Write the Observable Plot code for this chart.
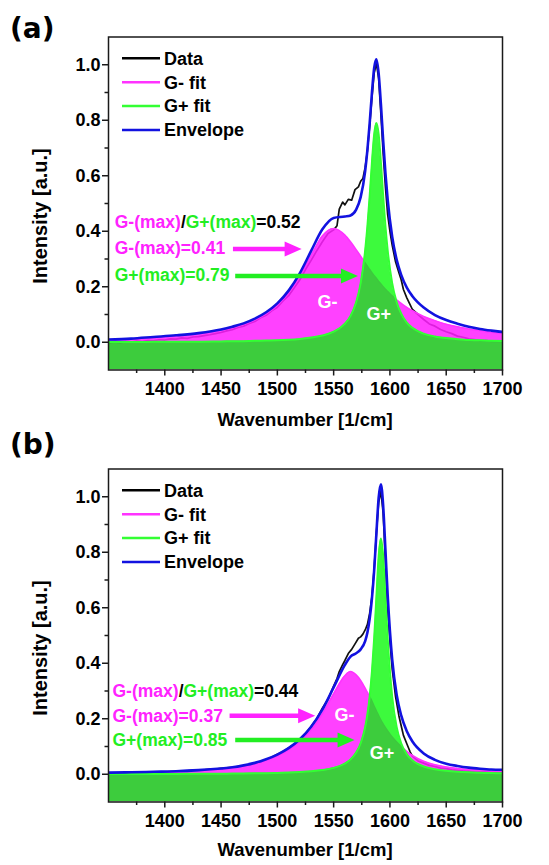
<!DOCTYPE html>
<html>
<head>
<meta charset="utf-8">
<script src="https://cdn.jsdelivr.net/npm/d3@7"></script>
<script src="https://cdn.jsdelivr.net/npm/@observablehq/plot@0.6"></script>
<style>
  html, body { margin: 0; padding: 0; background: #fff; }
  svg { display: block; }
</style>
</head>
<body>
<div id="chart"></div>
<script>
// ---------- data ----------
const wavenumber = [1350,1370,1390,1410,1430,1450,1460,1470,1480,1490,1500,1510,1520,1530,1540,1550,1560,1565,1570,1574,1578,1580,1582,1584,1586,1588,1590,1592,1594,1596,1598,1602,1606,1610,1615,1620,1630,1640,1650,1660,1670,1680,1690,1700];

const gMinusA = [0.009,0.012,0.017,0.023,0.031,0.043,0.052,0.064,0.080,0.102,0.133,0.177,0.237,0.312,0.383,0.410,0.386,0.362,0.334,0.310,0.286,0.274,0.262,0.251,0.240,0.230,0.219,0.210,0.200,0.191,0.183,0.167,0.153,0.140,0.126,0.114,0.093,0.078,0.065,0.056,0.048,0.042,0.036,0.032];
const gPlusA = [0.001,0.001,0.0015,0.002,0.002,0.003,0.0035,0.004,0.005,0.006,0.007,0.009,0.012,0.017,0.024,0.038,0.067,0.095,0.144,0.213,0.331,0.419,0.527,0.647,0.749,0.790,0.749,0.647,0.527,0.419,0.331,0.213,0.144,0.103,0.071,0.052,0.031,0.021,0.015,0.011,0.008,0.007,0.005,0.0045];
const envelopeA = [0.010,0.013,0.019,0.025,0.033,0.046,0.056,0.068,0.085,0.108,0.140,0.186,0.249,0.329,0.407,0.448,0.453,0.457,0.478,0.523,0.617,0.693,0.789,0.898,0.989,1.020,0.968,0.857,0.727,0.610,0.514,0.380,0.297,0.243,0.197,0.166,0.125,0.098,0.080,0.067,0.056,0.048,0.042,0.037];

const gMinusB = [0.005,0.006,0.008,0.010,0.013,0.019,0.023,0.029,0.038,0.050,0.066,0.088,0.118,0.160,0.218,0.290,0.355,0.370,0.358,0.338,0.310,0.295,0.280,0.264,0.245,0.228,0.211,0.195,0.181,0.168,0.156,0.134,0.116,0.100,0.083,0.068,0.047,0.034,0.026,0.021,0.017,0.015,0.013,0.012];
const gPlusB = [0.0007,0.0008,0.001,0.0013,0.0016,0.0021,0.0024,0.0028,0.0033,0.004,0.0049,0.0062,0.008,0.0107,0.0151,0.023,0.0388,0.0535,0.0781,0.1117,0.170,0.216,0.280,0.369,0.490,0.641,0.786,0.850,0.786,0.641,0.490,0.280,0.170,0.1117,0.072,0.050,0.0279,0.0177,0.0122,0.0089,0.0068,0.0053,0.0043,0.0036];
const envelopeB = [0.006,0.007,0.009,0.011,0.015,0.021,0.025,0.032,0.041,0.054,0.071,0.094,0.126,0.171,0.233,0.313,0.394,0.424,0.436,0.450,0.480,0.511,0.560,0.633,0.735,0.869,0.997,1.045,0.967,0.809,0.646,0.414,0.286,0.212,0.155,0.118,0.075,0.052,0.038,0.030,0.024,0.020,0.017,0.016];

const dataWavenumber = [1350,1355,1360,1365,1370,1375,1380,1385,1390,1395,1400,1405,1410,1415,1420,1425,1430,1435,1440,1445,1450,1455,1460,1465,1470,1475,1480,1485,1490,1495,1500,1505,1510,1515,1520,1525,1530,1535,1540,1545,1550,
  1553,1555,1558,1560,1563,1566,1569,1572,1574,1576,1578,1580,1582,1584,1586,1588,1590,1592,1594,1596,1598,1600,1602,1605,1608,1610,1612,1615,1618,1620,
  1625,1630,1635,1640,1645,1650,1655,1660,1665,1670,1675,1680,1685,1690,1695,1700];
const dataA = [-0.004,0.000,-0.003,0.002,0.001,0.004,0.002,0.006,0.005,0.009,0.008,0.012,0.011,0.016,0.014,0.019,0.020,0.024,0.027,0.031,0.035,0.041,0.045,0.053,0.058,0.068,0.075,0.088,0.097,0.113,0.126,0.149,0.168,0.196,0.225,0.262,0.295,0.330,0.362,0.392,0.405,
  0.42,0.48,0.505,0.495,0.515,0.512,0.55,0.56,0.58,0.59,0.63,0.69,0.78,0.88,0.97,1.005,0.95,0.82,0.68,0.56,0.46,0.40,0.35,0.29,0.25,0.225,0.19,0.16,0.135,0.118,
  0.10,0.082,0.066,0.058,0.046,0.038,0.031,0.022,0.018,0.012,0.010,0.006,0.007,0.003,0.004,0.002];
const dataB = [0.002,0.004,0.003,0.005,0.004,0.006,0.005,0.007,0.007,0.009,0.008,0.010,0.010,0.012,0.012,0.014,0.015,0.016,0.018,0.019,0.021,0.023,0.025,0.028,0.031,0.035,0.040,0.046,0.053,0.061,0.072,0.081,0.095,0.108,0.127,0.146,0.172,0.200,0.238,0.270,0.318,
  0.345,0.37,0.395,0.41,0.435,0.45,0.47,0.49,0.495,0.505,0.52,0.54,0.58,0.64,0.74,0.87,0.98,1.02,0.94,0.77,0.60,0.48,0.38,0.28,0.21,0.175,0.14,0.11,0.08,0.065,
  0.048,0.040,0.032,0.028,0.022,0.020,0.016,0.014,0.012,0.011,0.009,0.008,0.008,0.007,0.006,0.006];

const xTicks = [1400,1450,1500,1550,1600,1650,1700];
const xMinorTicks = [1375,1425,1475,1525,1575,1625,1675];
const yTicks = [0,0.2,0.4,0.6,0.8,1.0];
const yMinorTicks = [0.1,0.3,0.5,0.7,0.9];
const legendLabels = ["Data","G- fit","G+ fit","Envelope"];

// annotation values and their anchor points (data coordinates)
const panelLabels = ["(a)","(b)"];
const ratioValues = ["0.52","0.44"];
const gMinusMaxValues = ["0.41","0.37"];
const gPlusMaxValues = ["0.79","0.85"];
const annotTextX = [1356, 1354];
const annotRowsY = [[0.41,0.316,0.219],[0.278,0.187,0.10]];
const magentaArrows = [[1461,1522,0.334],[1458,1534,0.209]];
const greenArrows = [[1463,1572,0.237],[1463,1569,0.122]];
const peakLabelsA = [{x:1544.5,y:0.143,t:"G-"},{x:1590,y:0.10,t:"G+"}];
const peakLabelsB = [{x:1559.6,y:0.212,t:"G-"},{x:1593,y:0.075,t:"G+"}];

// ---------- styles ----------
const FONT = "'Liberation Sans', Arial, Helvetica, sans-serif";
const MAG_FILL = "#ff22ff";
const MAG_LINE = "#ff33ff";
const MAG_TEXT = "#ff22ff";
const GRN_FILL = "#00f800";
const GRN_LINE = "#33ff33";
const GRN_TEXT = "#22ee22";
const BLUE = "#1212e0";
const curve = "monotone-x";
const W = 549, H = 432, ML = 108, MR = 47, MT = 36.5, MB = 62.5;

function makePanel(k, gm, gp, env, dat, peakLabels) {
  const rows = wavenumber.map((x, i) => ({x, gm: gm[i], gp: gp[i], env: env[i]}));
  const data = dataWavenumber.map((x, i) => ({x, y: dat[i]}));
  const plot = Plot.plot({
    width: W, height: H,
    marginLeft: ML, marginRight: MR, marginTop: MT, marginBottom: MB,
    x: {domain: [1350, 1700]},
    y: {domain: [-0.1, 1.1]},
    style: {fontFamily: FONT, fontWeight: "bold", fontSize: "18px", background: "#fff", color: "#000", overflow: "visible"},
    marks: [
      Plot.line(data, {x: "x", y: "y", stroke: "#111", strokeWidth: 1.7, clip: true}),
      Plot.areaY(rows, {x: "x", y1: -0.1, y2: "gm", fill: MAG_FILL, fillOpacity: 0.86, curve, clip: true}),
      Plot.line(rows, {x: "x", y: "gm", stroke: MAG_LINE, strokeWidth: 1.5, curve, clip: true}),
      Plot.areaY(rows, {x: "x", y1: -0.1, y2: "gp", fill: GRN_FILL, fillOpacity: 0.76, curve, clip: true}),
      Plot.line(rows, {x: "x", y: "gp", stroke: GRN_LINE, strokeWidth: 2, curve, clip: true}),
      Plot.line(rows, {x: "x", y: "env", stroke: BLUE, strokeWidth: 2.6, curve, clip: true}),
      Plot.text(peakLabels, {x: "x", y: "y", text: "t", fill: "#fff", fontSize: 18, fontWeight: "bold"}),
      Plot.frame({stroke: "#1a1a1a", strokeWidth: 1.5}),
      Plot.axisX({ticks: xTicks, tickSize: 6, tickPadding: 6, tickFormat: d => String(d), fontSize: 18, fontWeight: "bold", strokeWidth: 1.5, stroke: "#1a1a1a", label: null}),
      Plot.axisX({ticks: xMinorTicks, tickSize: 3.5, tickFormat: () => "", strokeWidth: 1.5, stroke: "#1a1a1a", label: null}),
      Plot.axisY({ticks: yTicks, tickSize: 6, tickPadding: 2, tickFormat: d3.format(".1f"), fontSize: 18, fontWeight: "bold", strokeWidth: 1.5, stroke: "#1a1a1a", label: null}),
      Plot.axisY({ticks: yMinorTicks, tickSize: 3.5, tickFormat: () => "", strokeWidth: 1.5, stroke: "#1a1a1a", label: null})
    ]
  });

  const svg = d3.select(plot);
  const sx = plot.scale("x"), sy = plot.scale("y");
  const txt = (x, y, s, opts = {}) => svg.append("text")
    .attr("x", x).attr("y", y)
    .attr("font-family", opts.family || FONT)
    .attr("font-weight", "bold")
    .attr("font-size", opts.size || 17)
    .attr("fill", opts.fill || "#000")
    .attr("text-anchor", opts.anchor || "start")
    .attr("transform", opts.transform || null)
    .text(s);

  // arrows
  const arrow = (a, color) => {
    const px1 = sx.apply(a[0]), px2 = sx.apply(a[1]), py = sy.apply(a[2]);
    svg.append("line").attr("x1", px1).attr("x2", px2 - 12).attr("y1", py).attr("y2", py)
      .attr("stroke", color).attr("stroke-width", 4.5);
    svg.append("path").attr("d", `M${px2},${py}L${px2 - 17},${py - 7.5}L${px2 - 17},${py + 7.5}Z`).attr("fill", color);
  };
  arrow(magentaArrows[k], MAG_TEXT);
  arrow(greenArrows[k], GRN_TEXT);

  // annotation texts
  const ax = sx.apply(annotTextX[k]);
  const r = annotRowsY[k];
  const t0 = txt(ax, sy.apply(r[0]), "", {size: 17.5});
  t0.append("tspan").attr("fill", MAG_TEXT).text("G-(max)");
  t0.append("tspan").attr("fill", "#000").text("/");
  t0.append("tspan").attr("fill", GRN_TEXT).text("G+(max)");
  t0.append("tspan").attr("fill", "#000").text("=" + ratioValues[k]);
  txt(ax, sy.apply(r[1]), "G-(max)=" + gMinusMaxValues[k], {size: 17.5, fill: MAG_TEXT});
  txt(ax, sy.apply(r[2]), "G+(max)=" + gPlusMaxValues[k], {size: 17.5, fill: GRN_TEXT});

  // legend
  const legendColors = ["#000", MAG_LINE, GRN_LINE, BLUE];
  legendLabels.forEach((s, i) => {
    const y = MT + 21.8 + i * 23.9;
    svg.append("line").attr("x1", ML + 14).attr("x2", ML + 52).attr("y1", y).attr("y2", y)
      .attr("stroke", legendColors[i]).attr("stroke-width", 2.5);
    txt(ML + 56, y + 6.3, s, {size: 18});
  });

  // axis titles
  const cx = (ML + (W - MR)) / 2;
  txt(cx, k === 0 ? 426 : 424, "Wavenumber [1/cm]", {size: 18.5, anchor: "middle"});
  const cy = (MT + (H - MB)) / 2 + 13;
  txt(0, 0, "Intensity [a.u.]", {size: 20, anchor: "middle", transform: `translate(47,${cy}) rotate(-90)`});

  // panel label
  txt(10, k === 0 ? 38 : 22, panelLabels[k], {size: 28, family: "'DejaVu Sans', sans-serif"});

  return plot;
}

const root = document.getElementById("chart");
root.appendChild(makePanel(0, gMinusA, gPlusA, envelopeA, dataA, peakLabelsA));
root.appendChild(makePanel(1, gMinusB, gPlusB, envelopeB, dataB, peakLabelsB));
</script>
</body>
</html>
